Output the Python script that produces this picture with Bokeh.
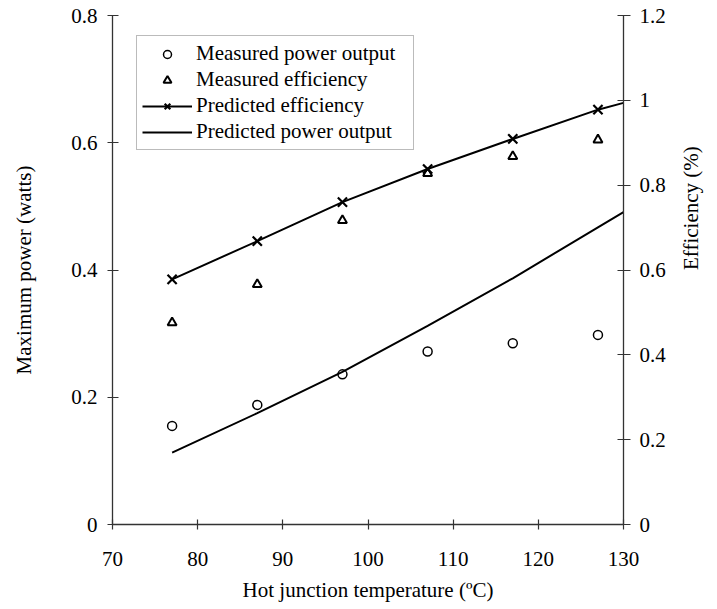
import math
from bokeh.plotting import figure
from bokeh.models import Range1d, LinearAxis, FixedTicker, Legend, LegendItem, Title
from bokeh.embed import file_html
from bokeh.resources import INLINE

# ---- data ----
temps = [77, 87, 97, 107, 117, 127]
measured_power = [0.155, 0.188, 0.236, 0.272, 0.285, 0.298]
measured_eff = [0.476, 0.566, 0.717, 0.828, 0.868, 0.907]
pred_eff_marker = [0.578, 0.668, 0.760, 0.838, 0.909, 0.978]
pred_T = [77, 87, 97, 107, 117, 127, 130]
pred_eff = [0.578, 0.668, 0.760, 0.838, 0.909, 0.978, 0.994]
pred_power = [0.113, 0.175, 0.240, 0.312, 0.387, 0.467, 0.491]

x_ticks = [70, 80, 90, 100, 110, 120, 130]
x_tick_labels = ["70", "80", "90", "100", "110", "120", "130"]
left_ticks = [0, 0.2, 0.4, 0.6, 0.8]
left_tick_labels = ["0", "0.2", "0.4", "0.6", "0.8"]
right_ticks = [0, 0.2, 0.4, 0.6, 0.8, 1.0, 1.2]
right_tick_labels = ["0", "0.2", "0.4", "0.6", "0.8", "1", "1.2"]

FONT = "Liberation Serif"
FS = "21px"
AX = "#333333"

p = figure(width=717, height=609, output_backend="svg", toolbar_location=None,
           x_range=Range1d(70, 130), y_range=Range1d(0, 0.8),
           min_border_left=112, min_border_right=89, min_border_top=15, min_border_bottom=85)
p.extra_y_ranges = {"eff": Range1d(0, 1.2)}
p.outline_line_color = None
p.xgrid.visible = False
p.ygrid.visible = False
p.background_fill_color = "white"
p.border_fill_color = "white"

def style_axis(ax, ticks, labels, t_in, t_out, standoff):
    ax.ticker = FixedTicker(ticks=ticks)
    ax.major_label_overrides = {t: l for t, l in zip(ticks, labels)}
    ax.minor_tick_line_color = None
    ax.major_tick_in = t_in
    ax.major_tick_out = t_out
    ax.axis_line_color = AX
    ax.major_tick_line_color = AX
    ax.axis_line_width = 1.3
    ax.major_tick_line_width = 1.2
    ax.major_label_text_font = FONT
    ax.major_label_text_font_size = FS
    ax.major_label_text_color = "black"
    ax.major_label_standoff = standoff
    ax.axis_label_text_font = FONT
    ax.axis_label_text_font_size = FS
    ax.axis_label_text_font_style = "normal"
    ax.axis_label_text_color = "black"

style_axis(p.xaxis[0], x_ticks, x_tick_labels, 5, 5, 22)
p.xaxis[0].axis_label = "Hot junction temperature (\u00baC)"
p.xaxis[0].axis_label_standoff = 9

style_axis(p.yaxis[0], left_ticks, left_tick_labels, 6, 5, 10)
p.yaxis[0].axis_label = "Maximum power (watts)"
p.yaxis[0].axis_label_standoff = 32

right = LinearAxis(y_range_name="eff")
style_axis(right, right_ticks, right_tick_labels, 6, 7, 9)
p.add_layout(right, "right")

if "axis_label_orientation" in right.properties():
    right.axis_label = "Efficiency (%)"
    right.axis_label_orientation = math.pi / 2
    right.axis_label_standoff = 22
else:
    t = Title(text="Efficiency (%)", align="center", text_font=FONT,
              text_font_size=FS, text_font_style="normal", text_color="black")
    p.add_layout(t, "right")

r_mp = p.scatter(temps, measured_power, marker="circle", size=9, fill_color=None,
                 line_color="black", line_width=1.5)
r_me = p.scatter(temps, measured_eff, marker="triangle", size=9, fill_color=None,
                 line_color="black", line_width=2)
r_me.y_range_name = "eff"
r_pel = p.line(pred_T, pred_eff, line_color="black", line_width=2, y_range_name="eff")
r_pem = p.scatter(temps, pred_eff_marker, marker="x", size=13, line_color="black",
                  line_width=2.2, y_range_name="eff")
r_pp = p.line(pred_T, pred_power, line_color="black", line_width=2)

legend = Legend(items=[
    LegendItem(label="Measured power output", renderers=[r_mp]),
    LegendItem(label="Measured efficiency", renderers=[r_me]),
    LegendItem(label="Predicted efficiency", renderers=[r_pel, r_pem]),
    LegendItem(label="Predicted power output", renderers=[r_pp]),
], location=(24, 374))
legend.label_text_font = FONT
legend.label_text_font_size = FS
legend.label_text_color = "black"
legend.glyph_width = 50
legend.glyph_height = 20
legend.label_height = 20
legend.label_width = 212
legend.label_standoff = 4
legend.spacing = 1
legend.padding = 5
legend.margin = 0
legend.border_line_color = "#777777"
legend.border_line_width = 1.2
legend.background_fill_alpha = 1.0
p.add_layout(legend, "center")

open("out.html", "w").write(file_html(p, INLINE))
